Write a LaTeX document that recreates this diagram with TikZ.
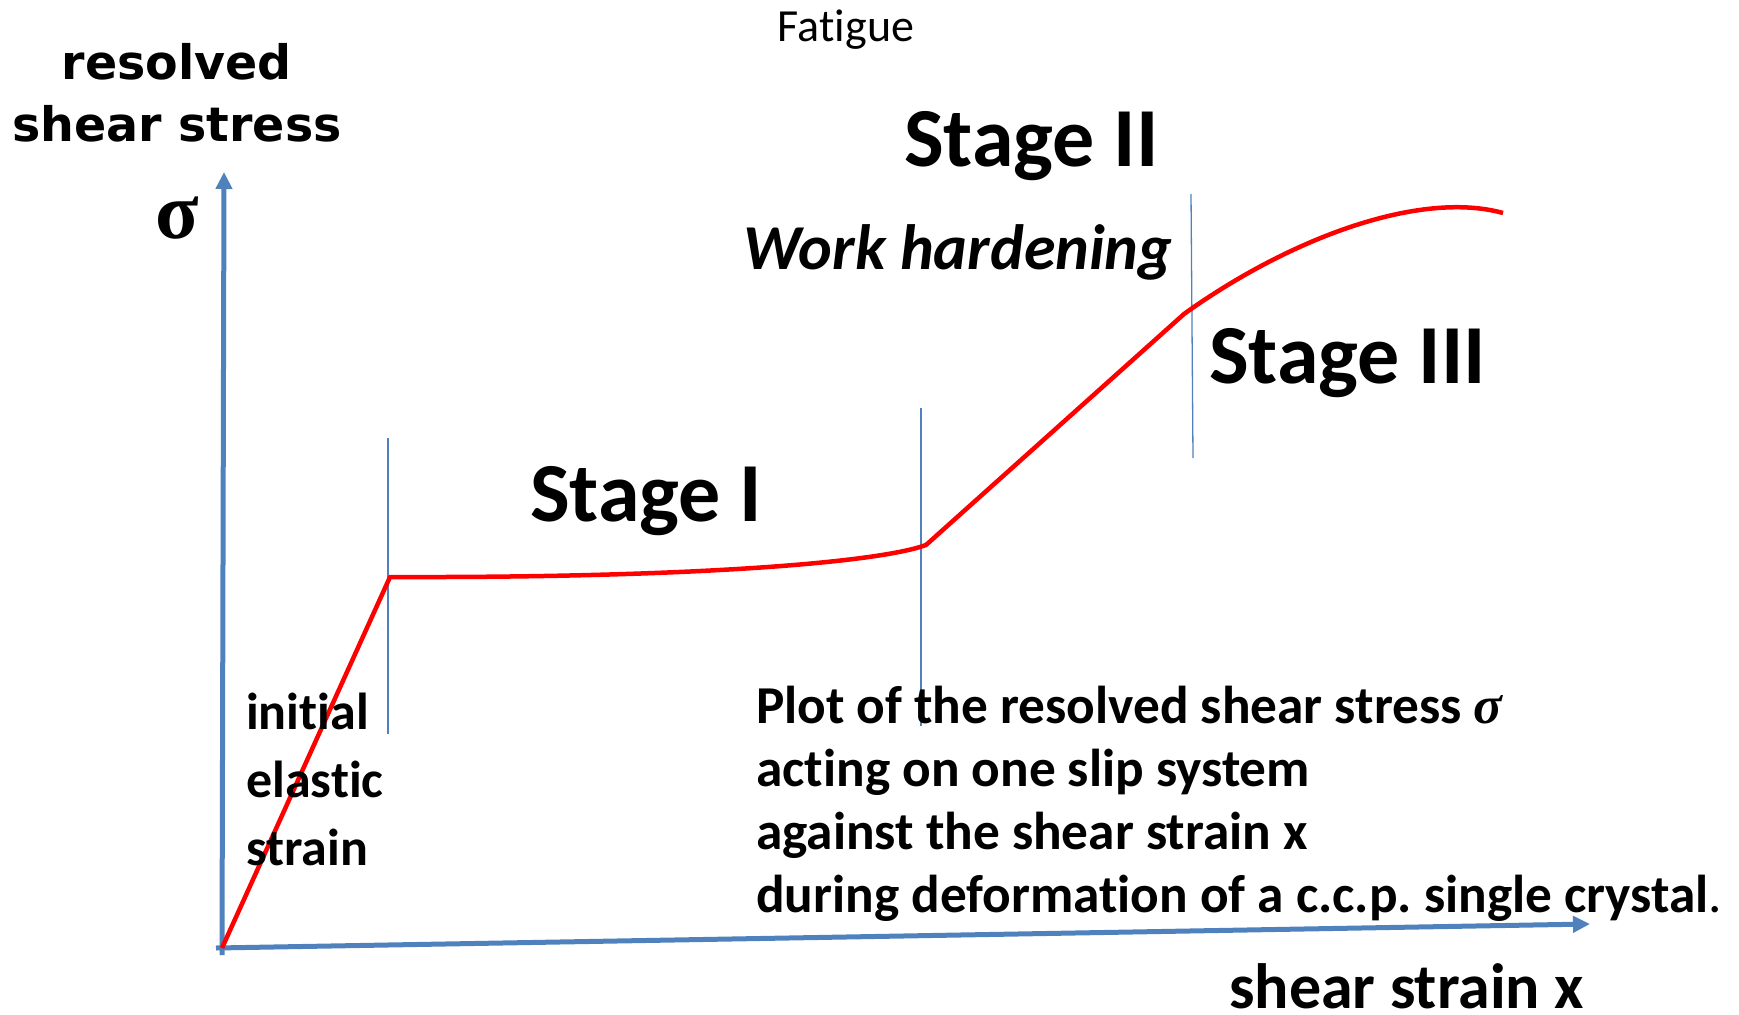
\documentclass[tikz,border=0pt]{standalone}
\usepackage{fontspec}
\setmainfont{Carlito}[Ligatures=NoCommon]
\newfontfamily\verdfont{DejaVu Sans}
\newfontfamily\timesfont{Liberation Serif}
\usepackage{tikz}
\usetikzlibrary{arrows.meta}
\frenchspacing

\definecolor{axisblue}{HTML}{4F81BD}
\definecolor{curvered}{HTML}{FF0000}

\tikzset{
  axis/.style={draw=axisblue, line width=5pt,
    -{Triangle[width=16pt,length=17pt]}},
  divider/.style={draw=axisblue, line width=1.3pt},
  curve/.style={draw=curvered, line width=4.5pt, line join=round},
  stagelabel/.style={font=\fontsize{84}{90}\selectfont\bfseries,
    anchor=base west, inner sep=0pt},
  note/.style={font=\fontsize{53.3}{63}\selectfont\bfseries,
    anchor=base west, inner sep=0pt, align=left}
}

\begin{document}
\begin{tikzpicture}[x=1pt, y=-1pt]
  \useasboundingbox (0,0) rectangle (1739,1014);

  % axes
  \coordinate (O) at (222,948);
  \coordinate (ytip) at (224,172);
  \coordinate (xtip) at (1590,924);
  \coordinate (ybase) at (222,955);
  \coordinate (xbase) at (216,948);
  \draw[axis] (ybase) -- (ytip);
  \draw[axis] (xbase) -- (xtip);

  % stage boundaries
  \coordinate (d1top) at (388,438);  \coordinate (d1bot) at (388,734);
  \coordinate (d2top) at (921,408);  \coordinate (d2bot) at (921,726);
  \coordinate (d3top) at (1191,194); \coordinate (d3bot) at (1193,458);
  \draw[divider] (d1top) -- (d1bot);
  \draw[divider] (d2top) -- (d2bot);
  \draw[divider] (d3top) -- (d3bot);

  % stress-strain curve
  \coordinate (yield) at (390,577);
  \coordinate (harden) at (926,545);
  \coordinate (recover) at (1184,314);
  \coordinate (last) at (1503,213);
  \draw[curve] (O) -- (yield)
    .. controls (700,578) and (880,562) .. (harden)
    -- (recover)
    .. controls (1290,238) and (1420,190) .. (last);

  % labels
  \node[anchor=base, inner sep=0pt] (fatigue) at (846,42)
    {\fontsize{46}{50}\selectfont Fatigue};
  \node[font=\verdfont\fontsize{47.5}{62}\selectfont\bfseries, align=center,
    inner sep=0pt, anchor=base] (ylabel) at (177,141)
    {resolved\\shear stress};
  \node[font=\timesfont\fontsize{80}{80}\selectfont\bfseries,
    inner sep=0pt, anchor=base] (sigma) at (177,238) {σ};
  \node[stagelabel] (stageII) at (904,166) {Stage II};
  \node[font=\fontsize{64}{70}\selectfont\bfseries\itshape,
    anchor=base west, inner sep=0pt] (workhard) at (743,269) {Work hardening};
  \node[stagelabel] (stageIII) at (1209,383) {Stage III};
  \node[stagelabel] (stageI) at (530,521) {Stage I};
  \node[note, font=\fontsize{52}{68}\selectfont\bfseries] (initial) at (246,865)
    {initial\\elastic\\strain};
  \node[note] (caption) at (756,912)
    {Plot of the resolved shear stress {\timesfont\itshape σ}\\
     acting on one slip system\\
     against the shear strain x\\
     during deformation of a c.c.p. single crystal{\mdseries .}};
  \node[font=\fontsize{64}{70}\selectfont\bfseries, text depth=0pt,
    anchor=base west, inner sep=0pt] (xlabel) at (1229,1008) {shear strain x};
\end{tikzpicture}
\end{document}
